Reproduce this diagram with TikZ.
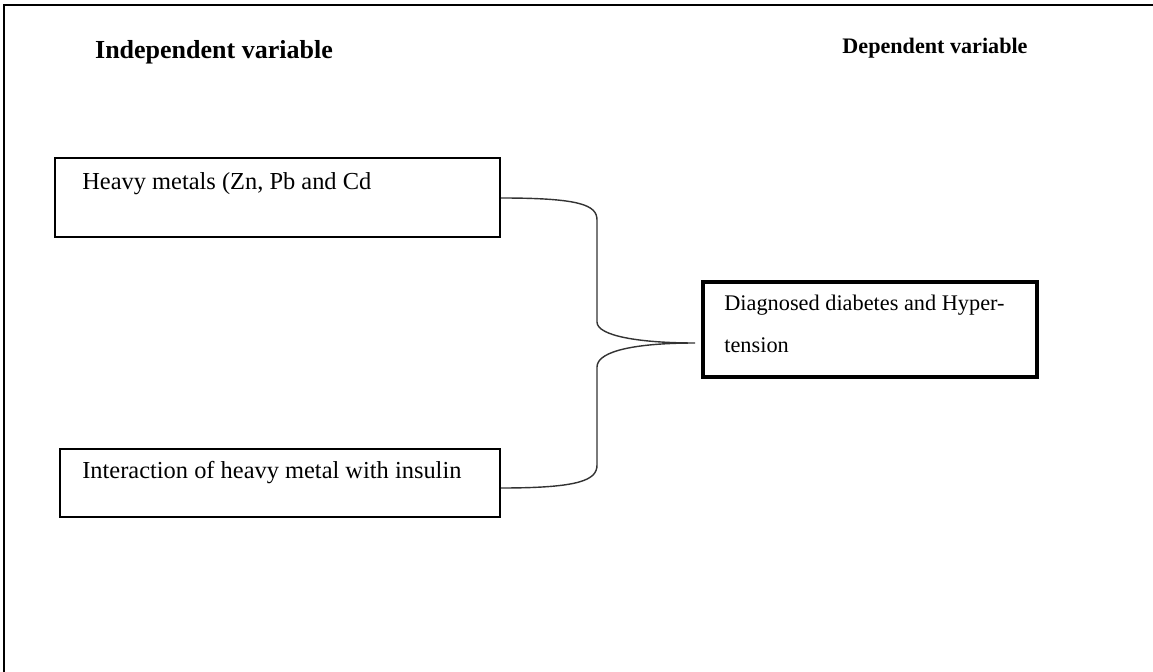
\documentclass[tikz,border=0pt]{standalone}
\usepackage{fontspec}
\setmainfont{Liberation Serif}
\usetikzlibrary{positioning}
\tikzset{
    box/.style={draw, line width=1.2pt, rectangle, inner sep=0pt}, % plain frame of an input
    outbox/.style={box, line width=2.4pt}, % heavier frame of the outcome
    boxtext/.style={anchor=north west, inner sep=0pt, font=\fontsize{13.9}{16}\selectfont, align=left},
    head/.style={inner sep=0pt, font=\bfseries\fontsize{14.8}{17}\selectfont},
    brace/.style={draw=black!80, line width=0.8pt},
}

\begin{document}
\begin{tikzpicture}[x=0.02cm, y=-0.02cm]
    \useasboundingbox (0,0) rectangle (1153,672);
    % page frame, open at right and bottom
    \draw[line width=1.2pt] (4,672) -- (4,5) -- (1153,5);
    % headings
    \node[head] (indep) at (214,52) {Independent variable};
    \node[head, font=\bfseries\fontsize{12.6}{14}\selectfont] (dep) at (935,48) {Dependent variable};
    % boxes
    \node[box, minimum width=8.9cm, minimum height=1.58cm] (metals) at (277.5,197.5) {};
    \node[boxtext] (metalstext) at (82,172) {Heavy metals (Zn, Pb and Cd};
    \node[box, minimum width=8.8cm, minimum height=1.36cm] (insulin) at (280,483) {};
    \node[boxtext] (insulintext) at (82,461) {Interaction of heavy metal with insulin};
    \node[outbox, minimum width=6.68cm, minimum height=1.9cm] (diab) at (870,329.5) {};
    \node[boxtext, font=\fontsize{12.7}{24}\selectfont] (diabtext) at (724,295)
        {Diagnosed diabetes and Hyper-\\tension};
    % curly connector
    \coordinate (tip) at (695,343);
    \draw[brace] (metals.east |- 0,198) .. controls (580,198) and (597,205) .. (597,220)
        -- (597,322) .. controls (597,336) and (640,343) .. (tip)
        .. controls (640,343) and (597,350) .. (597,367)
        -- (597,465) .. controls (597,480) and (580,488) .. (insulin.east |- 0,488);
\end{tikzpicture}
\end{document}
